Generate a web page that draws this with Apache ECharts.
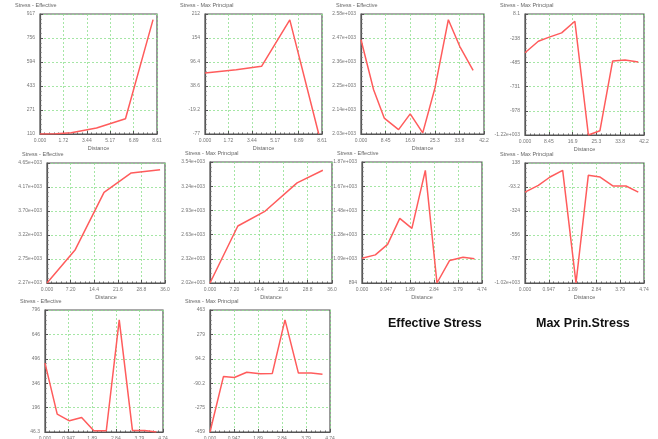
<!DOCTYPE html>
<html>
<head>
<meta charset="utf-8">
<script src="https://cdn.jsdelivr.net/npm/echarts@6/dist/echarts.min.js"></script>
<style>
  html, body { margin: 0; padding: 0; background: #fff; }
  #main { width: 658px; height: 439px; }
</style>
</head>
<body>
<div id="main"></div>
<script>
// distance / stress
var c1x = [0, 1.2, 2.3, 4.16, 6.29, 8.32];
var c1y = [110, 112, 118, 150, 213, 879];
var c2x = [0, 2.3, 4.16, 6.24, 8.37];
var c2y = [70, 78, 86, 198, -77];
var c3x = [0, 4.33, 7.98, 12.9, 16.9, 21.2, 25.4, 30.0, 33.9, 38.5];
var c3y = [2462, 2233, 2103, 2050, 2122, 2035, 2241, 2554, 2432, 2322];
var c4x = [0, 4.73, 8.87, 13.0, 17.7, 22.5, 26.6, 31.1, 35.5, 40.2];
var c4y = [-387, -269, -225, -184, -66, -1224, -1180, -471, -461, -481];
var c5x = [0, 8.62, 17.4, 25.7, 34.5];
var c5y = [2270, 2931, 4068, 4452, 4518];
var c6x = [0, 8.21, 16.3, 25.7, 33.3];
var c6y = [2020, 2736, 2924, 3278, 3436];
var c7x = [0, 0.527, 1.01, 1.49, 1.97, 2.50, 2.96, 3.46, 3.99, 4.44];
var c7y = [1094, 1121, 1206, 1415, 1335, 1802, 894, 1076, 1102, 1089];
var c8x = [0, 0.531, 0.996, 1.50, 2.03, 2.52, 2.99, 3.51, 4.02, 4.51];
var c8y = [-142, -78, 3, 67, -1018, 19, 3, -84, -84, -142];
var c9x = [0, 0.49, 0.98, 1.47, 1.96, 2.46, 2.98, 3.51, 4.0, 4.47];
var c9y = [470, 156, 115, 136, 54, 54, 735, 56, 56, 46.3];
var c10x = [0, 0.53, 0.96, 1.45, 1.98, 2.46, 2.96, 3.49, 3.99, 4.44];
var c10y = [-459, -40, -47, -7, -19, -16, 388, -14, -14, -22];

// axis ranges (tick labels run min..max in 5 steps)
var xMax = [8.61, 8.61, 42.24, 42.24, 36.0, 36.0, 4.737, 4.737, 4.737, 4.737];
var yMin = [110, -77, 2030, -1224, 2270, 2020, 894, -1018, 46.3, -459];
var yMax = [917, 212, 2580, 8.1, 4650, 3540, 1870, 138, 796, 463];
var titles = ['Stress - Effective', 'Stress - Max Principal'];

var xs = [c1x, c2x, c3x, c4x, c5x, c6x, c7x, c8x, c9x, c10x];
var ys = [c1y, c2y, c3y, c4y, c5y, c6y, c7y, c8y, c9y, c10y];

// plot boxes [left, top, width, height]
var boxes = [
  [40, 14, 117, 120], [205, 14, 117, 120], [361, 14, 123, 120], [525, 14, 119, 121],
  [47, 163, 118, 120], [210, 162, 122, 121], [362, 162, 120, 121], [525, 163, 119, 120],
  [45, 310, 118, 122], [210, 310, 120, 122]
];

function expo(v) {
  return v.toExponential(2).replace(/e([+-])(\d+)/, function (m, s, d) {
    return 'e' + s + ('000' + d).slice(-3);
  });
}
function fmtY(v) {
  if (Math.abs(v) >= 1000) return expo(v);
  return String(parseFloat(v.toPrecision(3)));
}
function fmtX(v) {
  if (v === 0) return '0.000';
  return v.toPrecision(3);
}

var grids = [], xAxes = [], yAxes = [], series = [], titleList = [];
boxes.forEach(function (b, i) {
  var lo = yMin[i], hi = yMax[i], xm = xMax[i];
  grids.push({
    left: b[0], top: b[1], width: b[2], height: b[3],
    outerBoundsMode: 'none',
    show: true, borderColor: '#555', borderWidth: 1.2
  });
  var common = {
    gridIndex: i, type: 'value', min: 0, max: 5, interval: 1,
    axisLine: { show: true, lineStyle: { color: '#555', width: 1.2 } },
    axisTick: { show: true, inside: true, length: 3, lineStyle: { color: '#555' } },
    minorTick: { show: true, splitNumber: 5, length: 1.5, lineStyle: { color: '#666' } },
    splitLine: { show: true, lineStyle: { color: '#8fe08f', type: [2, 2], width: 0.8 } }
  };
  xAxes.push(Object.assign({}, common, {
    name: 'Distance', nameLocation: 'middle', nameGap: 11,
    nameTextStyle: { fontSize: 5.5, color: '#666', fontFamily: 'Liberation Sans' },
    axisLabel: {
      fontSize: 5, color: '#777', margin: 4, fontFamily: 'Liberation Sans',
      formatter: function (v) { return fmtX(v * xm / 5); }
    }
  }));
  yAxes.push(Object.assign({}, common, {
    axisLabel: {
      fontSize: 5, color: '#777', margin: 5, fontFamily: 'Liberation Sans',
      formatter: function (v) { return fmtY(lo + v * (hi - lo) / 5); }
    }
  }));
  series.push({
    type: 'line', xAxisIndex: i, yAxisIndex: i, showSymbol: false,
    lineStyle: { color: '#ff5c5c', width: 1.5 },
    data: xs[i].map(function (x, k) {
      return [x / xm * 5, (ys[i][k] - lo) / (hi - lo) * 5];
    })
  });
  titleList.push({
    text: titles[i % 2], left: b[0] - 25, top: b[1] - 12, padding: 0,
    textStyle: { fontSize: 5.5, color: '#666', fontWeight: 'normal', fontFamily: 'Liberation Sans' }
  });
});

var myChart = echarts.init(document.getElementById('main'), null, { renderer: 'canvas' });
myChart.setOption({
  animation: false,
  title: titleList,
  grid: grids,
  xAxis: xAxes,
  yAxis: yAxes,
  series: series,
  graphic: [
    { type: 'text', left: 388, top: 317, style: { text: 'Effective Stress', font: 'bold 12.5px "Liberation Sans"', fill: '#111' } },
    { type: 'text', left: 536, top: 317, style: { text: 'Max Prin.Stress', font: 'bold 12.5px "Liberation Sans"', fill: '#111' } }
  ]
});
window.addEventListener('resize', myChart.resize);
</script>
</body>
</html>
